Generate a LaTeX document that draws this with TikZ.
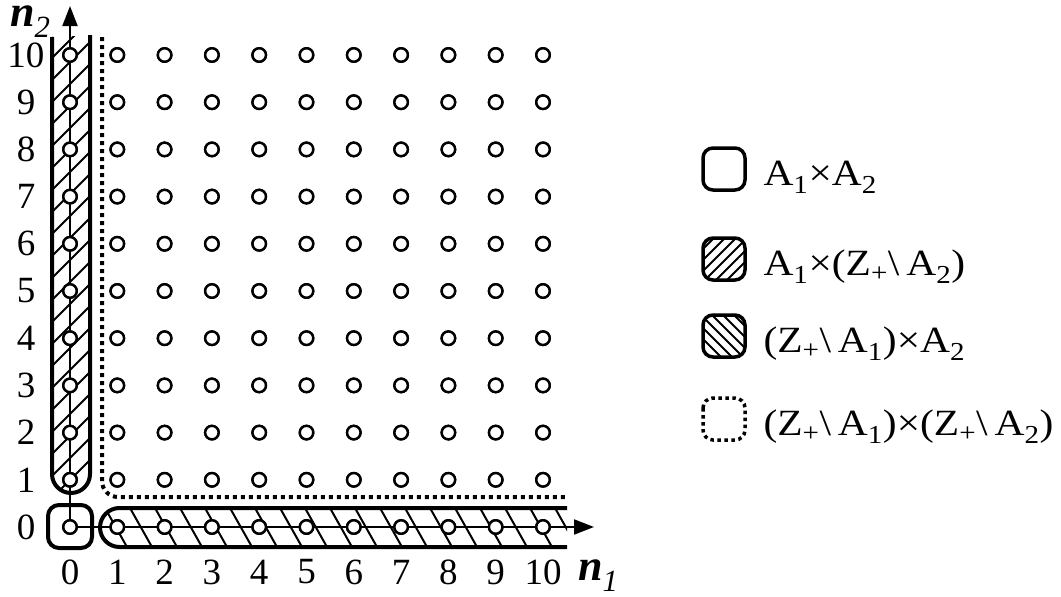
\documentclass[tikz,border=0pt]{standalone}
\usepackage{fontspec}
\setmainfont{Liberation Serif}
\usetikzlibrary{arrows.meta}
\begin{document}
\begin{tikzpicture}[x=1pt,y=-1pt,
  pt/.style={circle,draw,fill=white,line width=2.4pt,minimum size=13.5pt,inner sep=0pt},
  region/.style={line width=4pt},
  hatch/.style={line width=2pt},
  axis/.style={line width=2pt,-{Triangle[length=20pt,width=15pt]}},
  dotline/.style={line width=4pt,dash pattern=on 4pt off 4pt},
  tick/.style={font=\fontsize{37}{40}\selectfont,inner sep=0pt},
  axlabel/.style={font=\fontsize{44}{48}\selectfont,inner sep=0pt,anchor=base west},
  legtext/.style={anchor=base west,font=\fontsize{37}{40}\selectfont},
  legicon/.style={line width=3.5pt,rounded corners=10pt}
]
\useasboundingbox (0,0) rectangle (1061,597);
\def\gx#1{70+47.3*#1}
\def\gy#1{527-47.2*#1}
% hatching, left column
\begin{scope}
  \clip[rounded corners=19pt] (52,20) -- (52,493) -- (90,493) -- (90,20) -- cycle;
  \clip (40,36) rectangle (100,500);
  \foreach \k in {0,...,24} {
    \draw[hatch] (52,36+22*\k) -- (90,36+22*\k-38);
  }
\end{scope}
% hatching, bottom row
\begin{scope}
  \clip[rounded corners=19.5pt] (600,508) -- (100,508) -- (100,547) -- (600,547) -- cycle;
  \clip (90,500) rectangle (567,560);
  \foreach \k in {0,...,21} {
    \draw[hatch] (80+25*\k,508) -- (102+25*\k,547);
  }
\end{scope}
% region outlines
\draw[region,rounded corners=19pt] (52,37) -- (52,493) -- (90,493) -- (90,35);
\draw[region,rounded corners=19.5pt] (567,508) -- (100,508) -- (100,547) -- (567,547);
\draw[region,rounded corners=11pt] (48,505) rectangle (92,548);
\draw[dotline,rounded corners=16pt] (102,37) -- (102,497) -- (567,497);
% grid points
\foreach \i in {0,...,10} {
  \foreach \j in {0,...,10} {
    \node[pt] (p\i-\j) at ({\gx{\i}},{\gy{\j}}) {};
  }
}
% axes
\coordinate (n1tip) at (594,527);
\coordinate (n2tip) at (70,6);
\draw[axis] (p0-0.center) -- (n1tip);
\draw[axis] (p0-0.center) -- (n2tip);
% redraw points over axes
\foreach \i in {0,...,10} {
  \foreach \j in {0,...,10} {
    \node[pt] at (p\i-\j) {};
  }
}
% tick labels
\foreach \j in {0,...,10} {
  \node[tick] (ty\j) at (26,{\gy{\j}}) {\j};
}
\foreach \i in {0,...,10} {
  \node[tick] (tx\i) at ({\gx{\i}},572) {\i};
}
\node[axlabel] (lab2) at (10,26) {\textbf{\textit{n}}\textsubscript{\textit{2}}};
\node[axlabel] (lab1) at (578,580) {\textbf{\textit{n}}\textsubscript{\textit{1}}};
% legend
\draw[legicon] (703,148) rectangle (745,190);
\node[legtext] (l1) at (760,185) {\scalebox{1.12}[1]{A\textsubscript{1}×A\textsubscript{2}}};
\begin{scope}
  \clip[rounded corners=10pt] (703,238) rectangle (745,280);
  \foreach \k in {0,...,8} { \draw[hatch] (703,238+11*\k) -- (745,238+11*\k-42); }
\end{scope}
\draw[legicon] (703,238) rectangle (745,280);
\node[legtext] (l2) at (760,275) {\scalebox{1.12}[1]{A\textsubscript{1}×(Z\textsubscript{+}\textbackslash\,A\textsubscript{2})}};
\begin{scope}
  \clip[rounded corners=10pt] (703,315) rectangle (745,357);
  \foreach \k in {0,...,8} { \draw[hatch] (703,315-42+11*\k) -- (745,315+11*\k); }
\end{scope}
\draw[legicon] (703,315) rectangle (745,357);
\node[legtext] (l3) at (760,352) {\scalebox{1.12}[1]{(Z\textsubscript{+}\textbackslash\,A\textsubscript{1})×A\textsubscript{2}}};
\draw[line width=3.5pt,dash pattern=on 3.5pt off 3.5pt,rounded corners=10pt] (703,398) rectangle (745,440);
\node[legtext] (l4) at (760,435) {\scalebox{1.12}[1]{(Z\textsubscript{+}\textbackslash\,A\textsubscript{1})×(Z\textsubscript{+}\textbackslash\,A\textsubscript{2})}};
\end{tikzpicture}
\end{document}
